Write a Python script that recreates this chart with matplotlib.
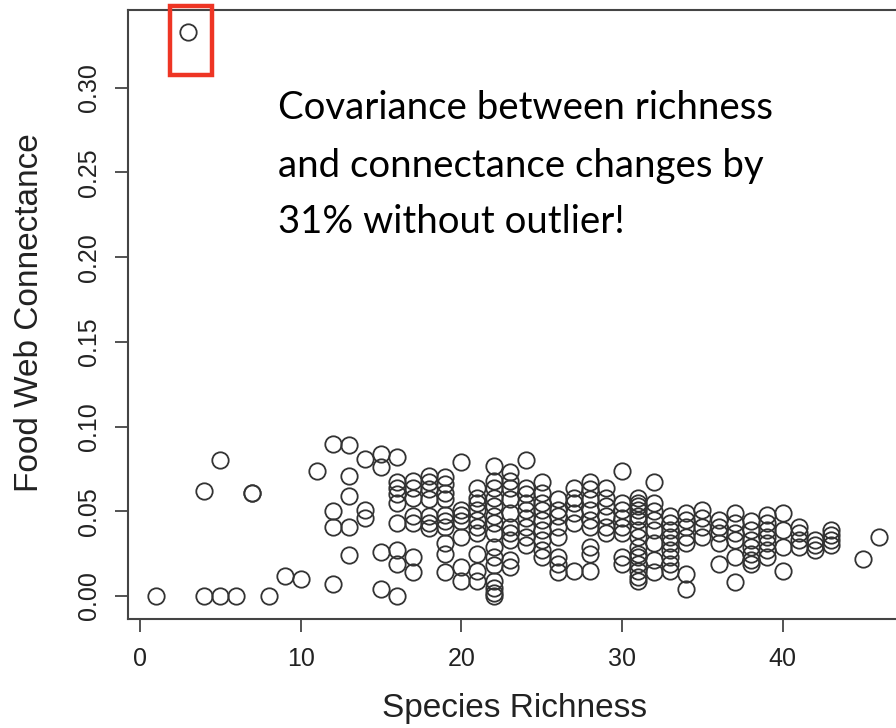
import matplotlib
matplotlib.use("Agg")
import matplotlib.pyplot as plt
from matplotlib.patches import Rectangle

# ---- data: (species richness, food web connectance) ----
richness = (
    [1, 4, 4, 5, 5, 6, 7, 7, 8, 9, 10, 11]
    + [12] * 4 + [13] * 5 + [14] * 3 + [15] * 4 + [16] * 9 + [17] * 7
    + [18] * 7 + [19] * 10 + [20] * 7 + [21] * 10 + [22] * 15 + [23] * 10
    + [24] * 9 + [25] * 9 + [26] * 8 + [27] * 6 + [28] * 9 + [29] * 6
    + [30] * 8 + [31] * 15 + [32] * 8 + [33] * 9 + [34] * 7 + [35] * 4
    + [36] * 5 + [37] * 6 + [38] * 7 + [39] * 7 + [40] * 4 + [41] * 4
    + [42] * 3 + [43] * 4 + [45, 46]
)
connectance = [
    0.000, 0.062, 0.000, 0.080, 0.000, 0.000, 0.061, 0.061, 0.000, 0.012, 0.010, 0.074,
    0.090, 0.050, 0.041, 0.007,
    0.089, 0.071, 0.059, 0.041, 0.024,
    0.081, 0.051, 0.046,
    0.084, 0.076, 0.026, 0.004,
    0.082, 0.067, 0.064, 0.060, 0.055, 0.043, 0.027, 0.019, 0.000,
    0.068, 0.064, 0.058, 0.047, 0.043, 0.023, 0.014,
    0.071, 0.067, 0.063, 0.057, 0.047, 0.043, 0.040,
    0.070, 0.066, 0.061, 0.057, 0.048, 0.044, 0.041, 0.031, 0.025, 0.014,
    0.079, 0.051, 0.048, 0.044, 0.035, 0.017, 0.009,
    0.064, 0.058, 0.055, 0.051, 0.045, 0.041, 0.037, 0.025, 0.015, 0.009,
    0.077, 0.068, 0.064, 0.058, 0.053, 0.047, 0.043, 0.037, 0.029, 0.023, 0.018, 0.009, 0.005, 0.002, 0.000,
    0.073, 0.068, 0.064, 0.057, 0.049, 0.041, 0.037, 0.033, 0.021, 0.017,
    0.080, 0.064, 0.060, 0.055, 0.051, 0.046, 0.041, 0.035, 0.030,
    0.067, 0.061, 0.055, 0.051, 0.045, 0.039, 0.033, 0.027, 0.023,
    0.057, 0.051, 0.047, 0.041, 0.035, 0.023, 0.019, 0.014,
    0.064, 0.058, 0.055, 0.049, 0.043, 0.015,
    0.067, 0.063, 0.057, 0.051, 0.045, 0.041, 0.029, 0.025, 0.015,
    0.064, 0.058, 0.053, 0.047, 0.041, 0.037,
    0.074, 0.055, 0.051, 0.046, 0.041, 0.037, 0.023, 0.019,
    0.058, 0.055, 0.053, 0.051, 0.047, 0.045, 0.039, 0.035, 0.029, 0.025, 0.023, 0.019, 0.015, 0.011, 0.009,
    0.067, 0.055, 0.050, 0.045, 0.039, 0.031, 0.021, 0.014,
    0.047, 0.043, 0.039, 0.035, 0.031, 0.027, 0.023, 0.019, 0.015,
    0.049, 0.045, 0.041, 0.035, 0.031, 0.013, 0.004,
    0.051, 0.046, 0.041, 0.035,
    0.045, 0.041, 0.037, 0.031, 0.019,
    0.049, 0.043, 0.037, 0.033, 0.023, 0.008,
    0.044, 0.039, 0.033, 0.029, 0.025, 0.021, 0.019,
    0.048, 0.043, 0.039, 0.035, 0.031, 0.027, 0.023,
    0.049, 0.039, 0.029, 0.015,
    0.041, 0.037, 0.033, 0.029,
    0.033, 0.030, 0.027,
    0.039, 0.036, 0.033, 0.030,
    0.022, 0.035,
]
outlier_richness = [3]
outlier_connectance = [0.333]

x_ticks = [0, 10, 20, 30, 40]
y_ticks = [0.00, 0.05, 0.10, 0.15, 0.20, 0.25, 0.30]
y_tick_labels = ["0.00", "0.05", "0.10", "0.15", "0.20", "0.25", "0.30"]

annotation_lines = [
    "Covariance between richness",
    "and connectance changes by",
    "31% without outlier!",
]

# ---- figure ----
W, H = 896, 728
fig = plt.figure(figsize=(W / 100, H / 100), dpi=100)
ax = fig.add_axes([128 / W, (H - 619) / H, (915 - 128) / W, (619 - 10) / H])

axis_col = "#444444"
pt_col = "#333333"
sans = ["Liberation Sans", "DejaVu Sans"]

ax.plot(richness + outlier_richness, connectance + outlier_connectance,
        linestyle="none", marker="o", markersize=11.8, markerfacecolor="none",
        markeredgecolor=pt_col, markeredgewidth=1.3)

ax.set_xlim(-0.747, (915 - 140) / 16.07)
ax.set_ylim(-0.01358, 0.3459)

for s in ax.spines.values():
    s.set_color(axis_col)
    s.set_linewidth(1.5)

ax.set_xticks(x_ticks)
ax.set_yticks(y_ticks)
ax.set_yticklabels(y_tick_labels, rotation=90, va="center")
ax.tick_params(axis="both", direction="out", length=9.5, width=1.3,
               color=axis_col, labelcolor="#222222", labelsize=18)
ax.tick_params(axis="x", pad=11)
ax.tick_params(axis="y", pad=10)
for lab in ax.get_xticklabels() + ax.get_yticklabels():
    lab.set_family(sans)

fig.text(515 / W, 1 - 708 / H, "Species Richness", ha="center", va="center",
         fontsize=24, family=sans, color="#222222")
fig.text(29 / W, 1 - 313 / H, "Food Web Connectance", ha="center", va="center",
         rotation=90, fontsize=24, family=sans, color="#222222")

# red highlight box around outlier
ox, oy = outlier_richness[0], outlier_connectance[0]
rect = Rectangle((ox - 1.13, oy - 0.0255), 2.61, 0.0405, fill=False,
                 edgecolor="#ee3524", linewidth=3.2, clip_on=False, zorder=5)
ax.add_patch(rect)

# annotation text
baselines = [119, 177, 233]
for line, b in zip(annotation_lines, baselines):
    fig.text(278 / W, 1 - b / H, line, ha="left", va="baseline",
             fontsize=27.6, family=["Lato", "DejaVu Sans"], color="black")

fig.savefig("out.png", dpi=100)
